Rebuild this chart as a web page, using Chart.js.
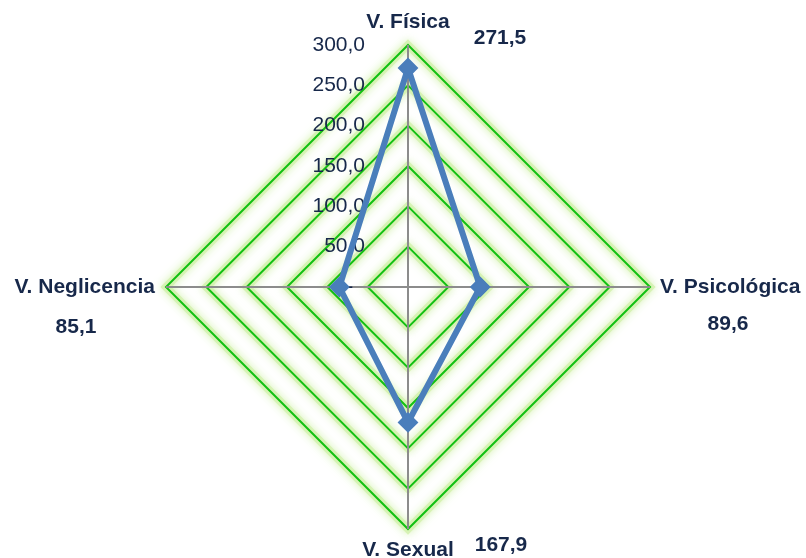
<!DOCTYPE html>
<html>
<head>
<meta charset="utf-8">
<script src="https://cdn.jsdelivr.net/npm/chart.js@4"></script>
<style>
  html, body { margin: 0; padding: 0; background: #fff; }
  canvas { display: block; }
</style>
</head>
<body>
<canvas id="radar" width="806" height="558"></canvas>
<script>
const categories = ['V. Física', 'V. Psicológica', 'V. Sexual', 'V. Neglicencia'];
const values = [271.5, 89.6, 167.9, 85.1];
const valueLabels = ['271,5', '89,6', '167,9', '85,1'];
const scaleMin = 0;
const scaleMax = 300;
const scaleStep = 50;

const textColor = '#17284a';
const fontFamily = '"Liberation Sans", Arial, sans-serif';

// distance of each category name from the outer ring, and value label offsets from the vertex
const nameGap = [23, 10, 21, 11];
const valueOffset = [[92, -7], [78, 37], [93, 16], [-90, 40]];

function tickText(v) {
  return v === 0 ? '-  ' : v.toFixed(1).replace('.', ',');
}

// soft light-green halo behind each ring
const ringGlow = {
  id: 'ringGlow',
  beforeDraw(chart) {
    const r = chart.scales.r;
    const ctx = chart.ctx;
    ctx.save();
    ctx.strokeStyle = 'rgba(208,240,168,0.75)';
    ctx.lineWidth = 8;
    ctx.shadowColor = 'rgba(200,238,155,1)';
    ctx.shadowBlur = 8;
    r.ticks.forEach(t => {
      if (t.value === 0) return;
      const d = r.getDistanceFromCenterForValue(t.value);
      ctx.beginPath();
      categories.forEach((c, i) => {
        const p = r.getPointPosition(i, d);
        if (i === 0) ctx.moveTo(p.x, p.y); else ctx.lineTo(p.x, p.y);
      });
      ctx.closePath();
      ctx.stroke();
    });
    ctx.restore();
  }
};

// tick labels sit to the left of the top axis, right aligned
const tickLabels = {
  id: 'tickLabels',
  beforeDatasetsDraw(chart) {
    const r = chart.scales.r;
    const ctx = chart.ctx;
    ctx.save();
    ctx.font = '21px ' + fontFamily;
    ctx.fillStyle = textColor;
    ctx.textAlign = 'right';
    ctx.textBaseline = 'middle';
    r.ticks.forEach(t => {
      const y = r.yCenter - r.getDistanceFromCenterForValue(t.value);
      ctx.fillText(tickText(t.value), r.xCenter - 43, y);
    });
    ctx.restore();
  }
};

const axisLabels = {
  id: 'axisLabels',
  afterDatasetsDraw(chart) {
    const r = chart.scales.r;
    const ctx = chart.ctx;
    ctx.save();
    ctx.font = 'bold 21px ' + fontFamily;
    ctx.fillStyle = textColor;
    ctx.textBaseline = 'middle';
    categories.forEach((name, i) => {
      const p = r.getPointPosition(i, r.drawingArea + nameGap[i]);
      const dx = p.x - r.xCenter;
      ctx.textAlign = Math.abs(dx) < 1 ? 'center' : (dx > 0 ? 'left' : 'right');
      ctx.fillText(name, p.x, p.y);
      const v = r.getPointPosition(i, r.drawingArea);
      ctx.textAlign = 'center';
      ctx.fillText(valueLabels[i], v.x + valueOffset[i][0], v.y + valueOffset[i][1]);
    });
    ctx.restore();
  }
};

new Chart(document.getElementById('radar'), {
  type: 'radar',
  data: {
    labels: categories,
    datasets: [{
      data: values,
      borderColor: '#4a7ebb',
      backgroundColor: '#4a7ebb',
      borderWidth: 6,
      fill: false,
      pointStyle: 'rectRot',
      pointRadius: 9,
      pointBorderWidth: 2,
      pointBackgroundColor: '#4a7ebb',
      pointBorderColor: '#4a7ebb'
    }]
  },
  options: {
    responsive: false,
    animation: false,
    events: [],
    layout: { padding: { left: 166, right: 156, top: 45, bottom: 29 } },
    plugins: { legend: { display: false }, tooltip: { enabled: false } },
    scales: {
      r: {
        min: scaleMin,
        max: scaleMax,
        ticks: { stepSize: scaleStep, display: false },
        grid: { circular: false, color: '#12c012', lineWidth: 2 },
        angleLines: { color: '#8c8c8c', lineWidth: 2 },
        pointLabels: { display: false }
      }
    }
  },
  plugins: [ringGlow, tickLabels, axisLabels]
});
</script>
</body>
</html>
